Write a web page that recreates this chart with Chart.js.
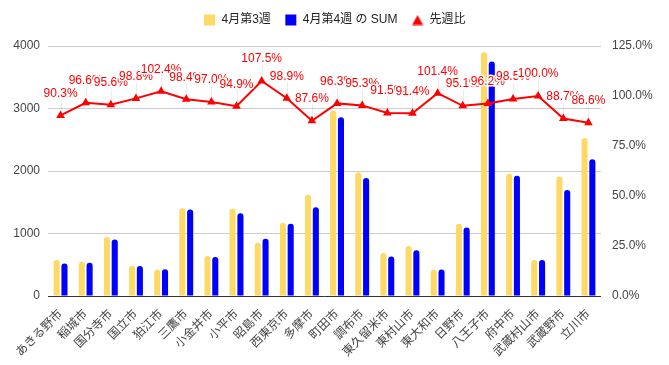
<!DOCTYPE html>
<html>
<head>
<meta charset="utf-8">
<script src="https://cdn.jsdelivr.net/npm/chart.js@4.4.0/dist/chart.umd.min.js"></script>
<style>
  html, body { margin: 0; padding: 0; background: #fff; }
  #wrap { width: 669px; height: 365px; }
</style>
</head>
<body>
<div id="wrap"><canvas id="chart" width="669" height="365"></canvas></div>
<script>
const cities = ['あきる野市', '稲城市', '国分寺市', '国立市', '狛江市', '三鷹市', '小金井市', '小平市', '昭島市', '西東京市', '多摩市', '町田市', '調布市', '東久留米市', '東村山市', '東大和市', '日野市', '八王子市', '府中市', '武蔵村山市', '武蔵野市', '立川市'];
const week3 = [575, 550, 946, 486, 420, 1406, 642, 1396, 852, 1171, 1621, 2970, 1982, 690, 802, 420, 1155, 3900, 1955, 578, 1912, 2530];
const week4 = [519, 531, 904, 480, 430, 1383, 623, 1325, 916, 1158, 1420, 2860, 1889, 631, 733, 426, 1098, 3752, 1926, 578, 1695, 2190];
const ratio = [90.3, 96.6, 95.6, 98.8, 102.4, 98.4, 97.0, 94.9, 107.5, 98.9, 87.6, 96.3, 95.3, 91.5, 91.4, 101.4, 95.1, 96.2, 98.5, 100.0, 88.7, 86.6];
const leftTicks = [0, 1000, 2000, 3000, 4000];
const rightTicks = [0, 25, 50, 75, 100, 125];

const FONT = '"Liberation Sans", Arial, "Noto Sans CJK JP", sans-serif';

// small red triangle for the legend
const tri = document.createElement('canvas');
tri.width = 12;
tri.height = 11;
const tctx = tri.getContext('2d');
tctx.fillStyle = '#ff0000';
tctx.beginPath();
tctx.moveTo(6, 0.5);
tctx.lineTo(11.5, 10.5);
tctx.lineTo(0.5, 10.5);
tctx.closePath();
tctx.fill();

// annotation labels above the line points, with white halo like the original
const annotate = {
  id: 'annotate',
  beforeInit(chart) {
    const fit = chart.legend.fit;
    chart.legend.fit = function() {
      fit.call(this);
      this.height = 46;
    };
  },
  afterDatasetsDraw(chart) {
    const meta = chart.getDatasetMeta(2);
    const ctx = chart.ctx;
    ctx.save();
    meta.data.forEach((pt) => {
      ctx.strokeStyle = 'rgba(0,0,0,0.08)';
      ctx.lineWidth = 1;
      ctx.beginPath();
      ctx.moveTo(Math.round(pt.x) + 0.5, pt.y - 3);
      ctx.lineTo(Math.round(pt.x) + 0.5, pt.y - 16);
      ctx.stroke();
    });
    ctx.font = '12px ' + FONT;
    ctx.textAlign = 'center';
    ctx.textBaseline = 'middle';
    meta.data.forEach((pt, i) => {
      const txt = ratio[i].toFixed(1) + '%';
      ctx.lineWidth = 3;
      ctx.strokeStyle = '#fff';
      ctx.strokeText(txt, pt.x, pt.y - 22);
      ctx.fillStyle = '#ff0000';
      ctx.fillText(txt, pt.x, pt.y - 22);
    });
    ctx.restore();
  }
};

new Chart(document.getElementById('chart'), {
  type: 'bar',
  data: {
    labels: cities,
    datasets: [
      {
        label: '4月第3週',
        data: week3,
        backgroundColor: '#ffd966',
        pointStyle: 'rect',
        borderRadius: 3,
        categoryPercentage: 0.62,
        barPercentage: 0.78,
        yAxisID: 'y'
      },
      {
        label: '4月第4週 の SUM',
        data: week4,
        backgroundColor: '#0000ff',
        pointStyle: 'rect',
        borderRadius: 3,
        categoryPercentage: 0.62,
        barPercentage: 0.78,
        yAxisID: 'y'
      },
      {
        type: 'line',
        label: '先週比',
        data: ratio,
        borderColor: '#ff0000',
        backgroundColor: '#ff0000',
        borderWidth: 2,
        pointStyle: 'triangle',
        pointRadius: 3,
        tension: 0,
        order: -1,
        yAxisID: 'y1'
      }
    ]
  },
  options: {
    responsive: false,
    animation: false,
    plugins: {
      legend: {
        display: true,
        position: 'top',
        labels: {
          usePointStyle: true,
          boxHeight: 11,
          padding: 14,
          color: '#222',
          font: { family: FONT, size: 12 },
          sort: (a, b) => a.datasetIndex - b.datasetIndex,
          generateLabels: (chart) => {
            const items = Chart.defaults.plugins.legend.labels.generateLabels(chart);
            items.forEach(it => { if (it.datasetIndex === 2) it.pointStyle = tri; });
            return items;
          }
        }
      },
      tooltip: { enabled: false }
    },
    scales: {
      x: {
        grid: { display: false },
        border: { display: false },
        ticks: {
          color: '#444',
          font: { family: FONT, size: 12 },
          maxRotation: 45,
          minRotation: 45,
          autoSkip: false
        },
        afterFit: (s) => { s.height = 69; }
      },
      y: {
        position: 'left',
        min: 0,
        max: 4000,
        afterBuildTicks: (s) => { s.ticks = leftTicks.map(v => ({ value: v })); },
        grid: {
          color: (c) => c.tick.value === 0 ? '#333' : '#ccc',
          drawTicks: false
        },
        border: { display: false },
        ticks: {
          color: '#444',
          font: { family: FONT, size: 12 },
          padding: 8,
          callback: (v) => String(v)
        },
        afterFit: (s) => { s.width = 48; }
      },
      y1: {
        position: 'right',
        min: 0,
        max: 125,
        afterBuildTicks: (s) => { s.ticks = rightTicks.map(v => ({ value: v })); },
        grid: { display: false, drawTicks: false },
        border: { display: false },
        ticks: {
          color: '#444',
          font: { family: FONT, size: 12 },
          padding: 11,
          callback: (v) => Number(v).toFixed(1) + '%'
        },
        afterFit: (s) => { s.width = 68; }
      }
    }
  },
  plugins: [annotate]
});
</script>
</body>
</html>
